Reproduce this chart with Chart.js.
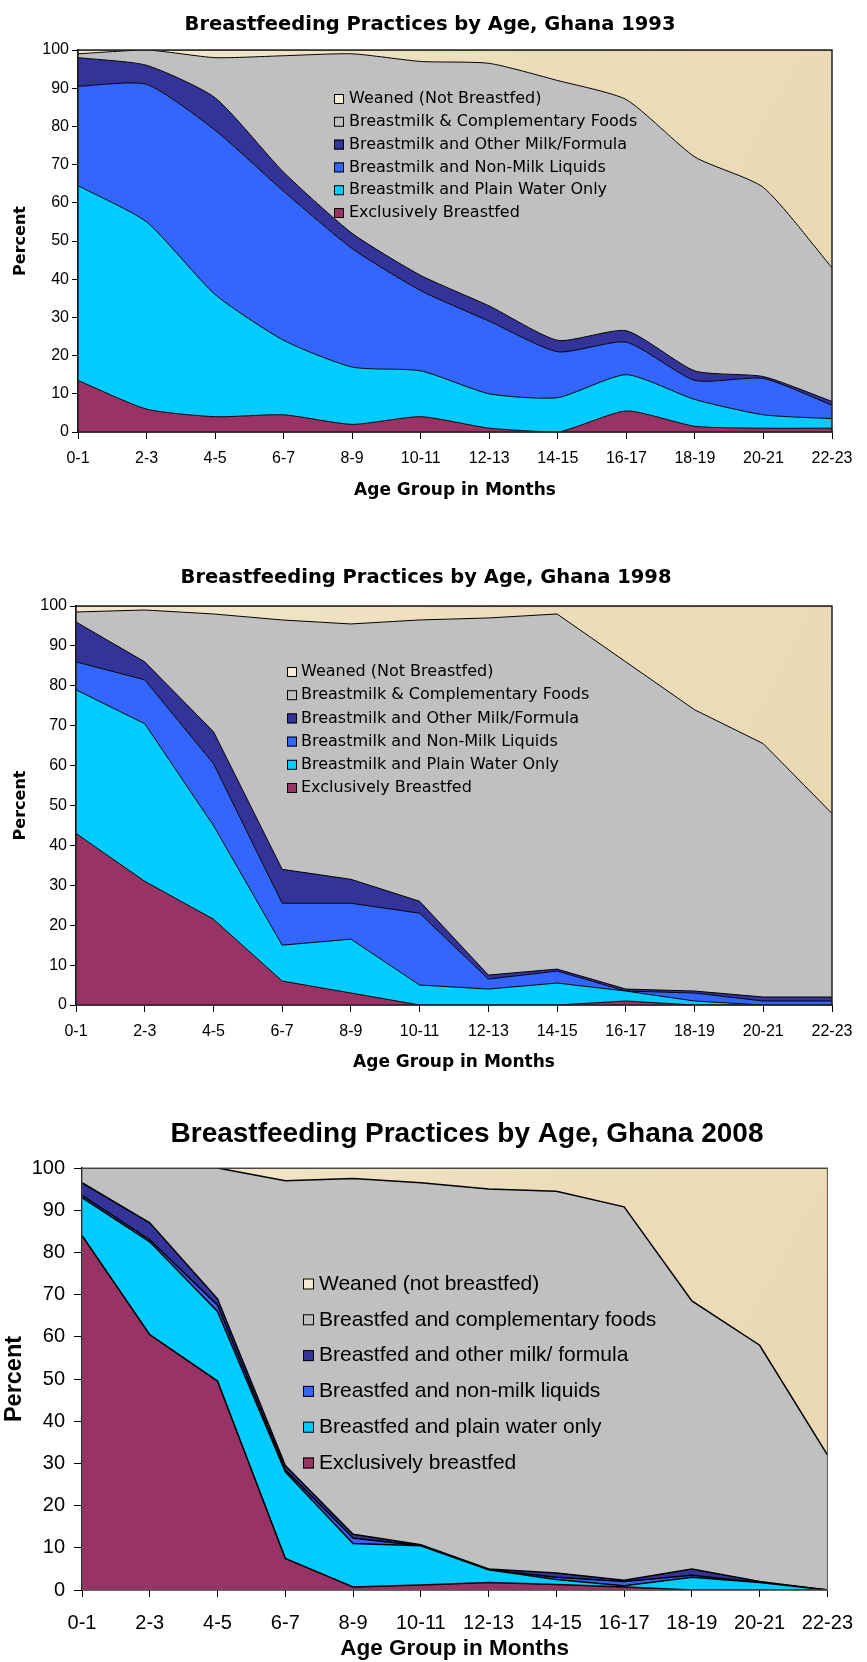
<!DOCTYPE html>
<html>
<head>
<meta charset="utf-8">
<title>Breastfeeding Practices by Age, Ghana</title>
<script src="https://cdn.jsdelivr.net/npm/chart.js@4.4.1/dist/chart.umd.min.js"></script>
<style>
  html, body { margin: 0; padding: 0; background: #fff; }
  #page { position: relative; width: 867px; height: 1662px; overflow: hidden; }
  canvas { position: absolute; left: 0; }
</style>
</head>
<body>
<div id="page">
  <canvas id="chart1993" width="867" height="520" style="top:0px"></canvas>
  <canvas id="chart1998" width="867" height="560" style="top:520px"></canvas>
  <canvas id="chart2008" width="867" height="582" style="top:1080px"></canvas>
</div>
<script>
const ageGroups = ['0-1', '2-3', '4-5', '6-7', '8-9', '10-11', '12-13', '14-15', '16-17', '18-19', '20-21', '22-23'];

// 1993
const exclusive1993 = [13.5, 6, 4, 4.5, 2, 4, 1, 0, 5.5, 1.5, 1, 1];
const water1993 = [51, 49, 32, 19.5, 15, 12, 9, 9, 9.5, 7, 3.5, 2.5];
const nonMilk1993 = [26, 36, 43, 39, 31, 21, 19, 12, 8.5, 5, 9.5, 3.5];
const otherMilk1993 = [7.5, 5, 8.5, 5, 4, 4, 4, 3, 3, 2.5, 0.5, 1];
const complementary1993 = [1, 4, 10.5, 30.5, 47, 56, 63.5, 68, 60.5, 56, 49.5, 35];
const weaned1993 = [1, 0, 2, 1.5, 1, 3, 3.5, 8, 13, 28, 36, 57];

// 1998
const exclusive1998 = [43, 31, 21.5, 6, 3, 0, 0, 0, 1, 0, 0, 0];
const water1998 = [36, 39.5, 23.5, 9, 13.5, 5, 4, 5.5, 2.5, 1, 0, 0];
const nonMilk1998 = [7, 11, 15.5, 10.5, 9, 18, 2.5, 3, 0, 2, 1, 1];
const otherMilk1998 = [10, 4.5, 8, 8.5, 6, 3, 1, 0.5, 0.5, 0.5, 1, 1];
const complementary1998 = [2.5, 13, 29.5, 62.5, 64, 70.5, 89.5, 89, 82, 70.5, 63.5, 46];
const weaned1998 = [1.5, 1, 2, 3.5, 4.5, 3.5, 3, 2, 14, 26, 34.5, 52];

// 2008
const exclusive2008 = [84, 60.5, 49.5, 7.5, 0.7, 1.2, 1.8, 1.3, 0.7, 0, 0, 0];
const water2008 = [9, 22, 16.5, 20.5, 10.3, 9.3, 3, 1.2, 0.3, 3, 1.8, 0];
const nonMilk2008 = [0.5, 0.5, 1.5, 0.5, 1.3, 0, 0, 0.5, 1, 0.5, 0, 0];
const otherMilk2008 = [3, 4, 1.5, 1, 0.9, 0.2, 0.2, 1, 0.3, 1.5, 0.2, 0];
const complementary2008 = [3.5, 13, 31, 67.5, 84.3, 85.8, 90, 90.5, 88.5, 63.5, 56, 32];
const weaned2008 = [0, 0, 0, 3, 2.5, 3.5, 5, 5.5, 9.2, 31.5, 42, 68];

const oldLabels = ['Exclusively Breastfed', 'Breastmilk and Plain Water Only', 'Breastmilk and Non-Milk Liquids',
  'Breastmilk and Other Milk/Formula', 'Breastmilk & Complementary Foods', 'Weaned (Not Breastfed)'];
const newLabels = ['Exclusively breastfed', 'Breastfed and plain water only', 'Breastfed and non-milk liquids',
  'Breastfed and other milk/ formula', 'Breastfed and complementary foods', 'Weaned (not breastfed)'];

const colors = ['#993366', '#00CCFF', '#3366FF', '#333399', '#C0C0C0', 'parchment'];
const legendBoxColors = ['#993366', '#00CCFF', '#3366FF', '#333399', '#C0C0C0', '#F4EAD2'];

function parchment(context) {
  const chart = context.chart;
  const area = chart.chartArea;
  if (!area) return '#EEDFC0';
  const g = chart.ctx.createLinearGradient(area.left, area.top, area.right, area.bottom);
  g.addColorStop(0, '#F3E8CD');
  g.addColorStop(0.5, '#ECDDBA');
  g.addColorStop(1, '#E9D8B1');
  return g;
}

// draws frame, title and the in-plot legend
const decorations = {
  id: 'decorations',
  afterDraw(chart, args, o) {
    const ctx = chart.ctx, a = chart.chartArea;
    ctx.save();
    ctx.strokeStyle = o.frameColor;
    ctx.lineWidth = o.frameWidth;
    ctx.strokeRect(a.left, a.top, a.right - a.left, a.bottom - a.top);

    ctx.fillStyle = '#000';
    ctx.textAlign = 'center';
    ctx.textBaseline = 'middle';
    ctx.font = o.titleFont;
    ctx.fillText(o.title, o.titleX, o.titleY);

    ctx.textAlign = 'left';
    ctx.font = o.legendFont;
    const ds = chart.data.datasets;
    for (let i = 0; i < ds.length; i++) {
      const idx = ds.length - 1 - i;
      const y = o.legendY + i * o.legendGap;
      ctx.fillStyle = legendBoxColors[idx];
      ctx.fillRect(o.boxX, y - o.box / 2, o.box, o.box);
      ctx.strokeStyle = '#000';
      ctx.lineWidth = 1;
      ctx.strokeRect(o.boxX + 0.5, y - o.box / 2 + 0.5, o.box - 1, o.box - 1);
      ctx.fillStyle = '#000';
      ctx.fillText(ds[idx].label, o.textX, y);
    }
    ctx.restore();
  }
};

function makeChart(id, series, labels, s) {
  const datasets = series.map((values, i) => ({
    label: labels[i],
    data: values,
    backgroundColor: colors[i] === 'parchment' ? parchment : colors[i],
    borderColor: '#000',
    borderWidth: s.lineWidth,
    pointRadius: 0,
    tension: s.tension,
    fill: i === 0 ? 'origin' : '-1'
  }));

  return new Chart(document.getElementById(id), {
    type: 'line',
    data: { labels: ageGroups, datasets: datasets },
    plugins: [decorations],
    options: {
      responsive: false,
      animation: false,
      layout: { padding: { top: s.areaTop, right: s.padRight, left: 0, bottom: 0 } },
      plugins: {
        legend: { display: false },
        tooltip: { enabled: false },
        decorations: s.deco
      },
      scales: {
        x: {
          offset: false,
          grid: { drawOnChartArea: false, drawTicks: true, tickLength: 7, color: '#000' },
          border: { color: '#000', width: s.axisWidth },
          ticks: { color: '#000', font: s.tickFont, padding: s.xTickPad, maxRotation: 0, autoSkip: false },
          title: { display: true, text: 'Age Group in Months', color: '#000', font: s.axisFont,
                   padding: { top: 0, bottom: s.xTitlePad } },
          afterFit: scale => { scale.height = s.xHeight; }
        },
        y: {
          stacked: true,
          min: 0,
          max: 100,
          grid: { drawOnChartArea: false, drawTicks: true, tickLength: s.yTickLen, color: '#000' },
          border: { color: '#000', width: s.axisWidth },
          ticks: { stepSize: 10, color: '#000', font: s.tickFont, padding: s.yTickPad },
          title: { display: true, text: 'Percent', color: '#000', font: s.percentFont,
                   padding: { top: s.yTitlePad, bottom: 0 } },
          afterFit: scale => { scale.width = s.areaLeft; }
        }
      }
    }
  });
}

const oldTick = { family: 'Liberation Sans', size: 16 };
const oldAxis = { family: 'DejaVu Sans', size: 17, weight: 'bold' };
const oldPercent = { family: 'DejaVu Sans', size: 16, weight: 'bold' };

makeChart('chart1993',
  [exclusive1993, water1993, nonMilk1993, otherMilk1993, complementary1993, weaned1993], oldLabels, {
    lineWidth: 1, tension: 0.2, axisWidth: 1.5,
    areaTop: 50, areaLeft: 78, padRight: 35, xHeight: 88,
    tickFont: oldTick, axisFont: oldAxis, percentFont: oldPercent,
    xTickPad: 10, xTitlePad: 19, yTickLen: 6, yTickPad: 3, yTitlePad: 11,
    deco: {
      frameColor: '#222', frameWidth: 1.5,
      title: 'Breastfeeding Practices by Age, Ghana 1993', titleFont: 'bold 19.5px "DejaVu Sans"', titleX: 430, titleY: 25,
      legendFont: '16px "DejaVu Sans"', legendY: 99, legendGap: 22.8, box: 10, boxX: 334, textX: 349
    }
  });

makeChart('chart1998',
  [exclusive1998, water1998, nonMilk1998, otherMilk1998, complementary1998, weaned1998], oldLabels, {
    lineWidth: 1, tension: 0, axisWidth: 1.5,
    areaTop: 86, areaLeft: 76, padRight: 35, xHeight: 75,
    tickFont: oldTick, axisFont: oldAxis, percentFont: oldPercent,
    xTickPad: 10, xTitlePad: 7, yTickLen: 6, yTickPad: 3, yTitlePad: 11,
    deco: {
      frameColor: '#222', frameWidth: 1.5,
      title: 'Breastfeeding Practices by Age, Ghana 1998', titleFont: 'bold 19.5px "DejaVu Sans"', titleX: 426, titleY: 58,
      legendFont: '16px "DejaVu Sans"', legendY: 152, legendGap: 23.2, box: 10, boxX: 287, textX: 301
    }
  });

makeChart('chart2008',
  [exclusive2008, water2008, nonMilk2008, otherMilk2008, complementary2008, weaned2008], newLabels, {
    lineWidth: 1.5, tension: 0, axisWidth: 1.5,
    areaTop: 88, areaLeft: 82, padRight: 28, xHeight: 72,
    tickFont: { family: 'Liberation Sans', size: 20 },
    axisFont: { family: 'Liberation Sans', size: 22.5, weight: 'bold' },
    percentFont: { family: 'Liberation Sans', size: 23.5, weight: 'bold' },
    xTickPad: 14, xTitlePad: 0, yTickLen: 8, yTickPad: 9, yTitlePad: 0,
    deco: {
      frameColor: '#555', frameWidth: 1,
      title: 'Breastfeeding Practices by Age, Ghana 2008', titleFont: 'bold 28px "Liberation Sans"', titleX: 467, titleY: 54,
      legendFont: '21px "Liberation Sans"', legendY: 204, legendGap: 35.8, box: 11, boxX: 303, textX: 319
    }
  });
</script>
</body>
</html>
